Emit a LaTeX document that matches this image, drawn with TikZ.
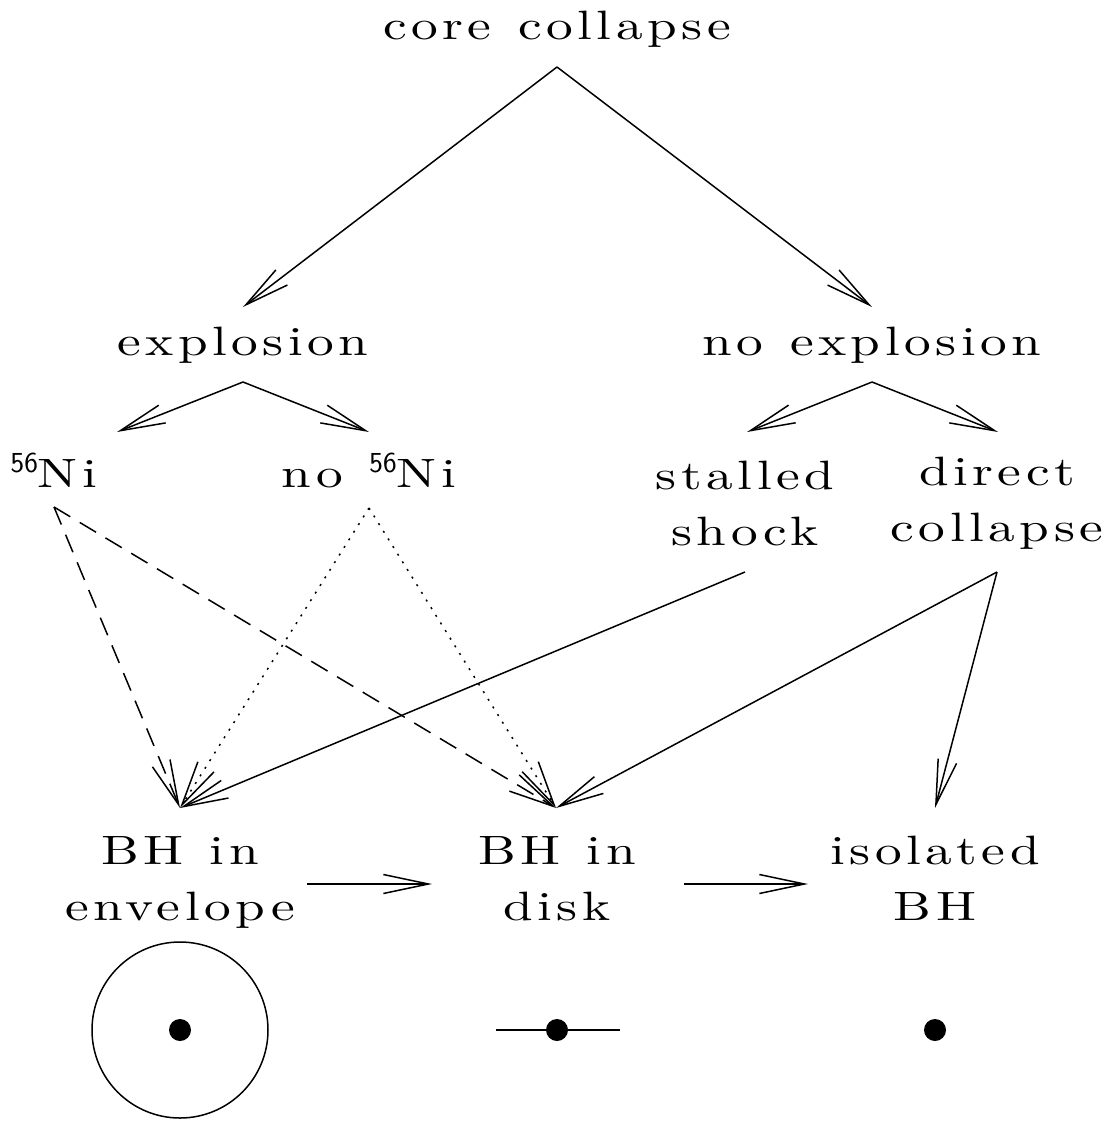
\documentclass[tikz,border=0pt]{standalone}
\usepackage{fontspec}
\usetikzlibrary{arrows.meta}

\newfontfamily\trackfont{lmroman10-regular.otf}[FakeStretch=1.3, LetterSpace=11, WordSpace=1.2]

\tikzset{every picture/.style={line width=1.5pt}}
\tikzset{
  lbl/.style={anchor=base, inner sep=0pt, align=center,
    font=\trackfont\fontsize{41}{56}\selectfont},
  barb/.style={-{Straight Barb[length=45pt,width=19pt]}},
  dashline/.style={barb, dash pattern=on 19pt off 11pt},
  dotline/.style={barb, dash pattern=on 2pt off 7pt},
  bhdot/.style={circle, fill=black, inner sep=0pt, minimum size=22pt},
}
\newcommand{\nisup}{\raisebox{15pt}{\fontsize{29}{29}\selectfont\sffamily 56}}

\begin{document}
\begin{tikzpicture}[x={(1pt,0pt)}, y={(0pt,-1pt)}]
  \useasboundingbox (0,0) rectangle (1104,1124);

  % Labels (two-line labels sit on their last line)
  \node[lbl] (core)    at (557,40)  {core collapse};
  \node[lbl] (expl)    at (243,355) {explosion};
  \node[lbl] (noexpl)  at (872,355) {no explosion};
  \node[lbl] (ni)      at (54,487)  {\nisup Ni};
  \node[lbl] (noni)    at (369,487) {no \nisup Ni};
  \node[lbl] (stalled) at (745,545) {stalled\\shock};
  \node[lbl] (direct)  at (997,541) {direct\\collapse};
  \node[lbl] (env)     at (180,920) {BH in\\envelope};
  \node[lbl] (disk)    at (557,920) {BH in\\disk};
  \node[lbl] (iso)     at (935,920) {isolated\\BH};

  % Branches
  \draw[barb] ([yshift=-27pt]core.base) -- ([yshift=48pt]expl.base);
  \draw[barb] ([yshift=-27pt]core.base) -- ([yshift=48pt]noexpl.base);
  \draw[barb] ([yshift=-27pt]expl.base) -- ([xshift=63pt,yshift=55pt]ni.base);
  \draw[barb] ([yshift=-27pt]expl.base) -- ([yshift=55pt]noni.base);
  \draw[barb] ([yshift=-27pt]noexpl.base) -- ([xshift=2pt,yshift=113pt]stalled.base);
  \draw[barb] ([yshift=-27pt]noexpl.base) -- ([xshift=1pt,yshift=109pt]direct.base);

  % Fates of the black hole
  \draw[dashline] ([yshift=-20pt]ni.base) -- ([yshift=112pt]env.base);
  \draw[dashline] ([yshift=-20pt]ni.base) -- ([xshift=-1pt,yshift=112pt]disk.base);
  \draw[dotline] ([yshift=-21pt]noni.base) -- ([yshift=112pt]env.base);
  \draw[dotline] ([yshift=-21pt]noni.base) -- ([xshift=-1pt,yshift=112pt]disk.base);
  \draw[barb] ([yshift=-27pt]stalled.base) -- ([yshift=112pt]env.base);
  \draw[barb] ([yshift=-31pt]direct.base) -- ([xshift=-1pt,yshift=112pt]disk.base);
  \draw[barb] ([yshift=-31pt]direct.base) -- ([yshift=112pt]iso.base);

  % Sequence
  \draw[barb] ([xshift=127pt,yshift=36pt]env.base) -- ([xshift=-125pt,yshift=36pt]disk.base);
  \draw[barb] ([xshift=127pt,yshift=36pt]disk.base) -- ([xshift=-127pt,yshift=36pt]iso.base);

  % Sketches
  \draw (180,1030) circle[radius=88];
  \draw (496,1030) -- (620,1030);
  \foreach \x/\name in {180/envdot, 557/diskdot, 935/isodot}
    {
      \node[bhdot] (\name) at (\x,1030) {};
    }
\end{tikzpicture}
\end{document}
